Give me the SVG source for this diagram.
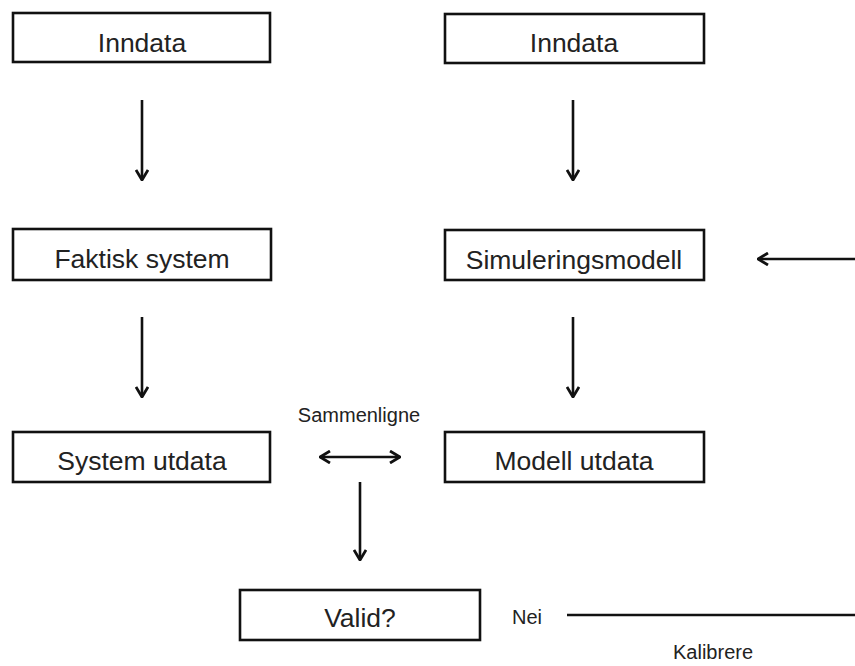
<svg xmlns="http://www.w3.org/2000/svg" width="855" height="666" viewBox="0 0 855 666">
<defs>
<style>
.box{fill:#fff;stroke:#111;stroke-width:2.6}
.lbl{font-family:"Liberation Sans",Arial,sans-serif;font-size:26.5px;fill:#222;text-anchor:middle}
.small{font-family:"Liberation Sans",Arial,sans-serif;font-size:20px;fill:#222}
.conn{stroke:#111;stroke-width:2.6;fill:none}
</style>
<marker id="ah" viewBox="0 0 12 14" refX="11" refY="7" markerWidth="12" markerHeight="14" markerUnits="userSpaceOnUse" orient="auto-start-reverse">
<path d="M1,1 L11,7 L1,13" fill="none" stroke="#111" stroke-width="2.8"/>
</marker>
</defs>
<rect width="855" height="666" fill="#fff"/>
<g id="inndata1"><rect class="box" x="13" y="13" width="257" height="49"/><text class="lbl" x="142" y="51.5">Inndata</text></g>
<g id="inndata2"><rect class="box" x="445" y="14" width="259" height="49"/><text class="lbl" x="574" y="52">Inndata</text></g>
<g id="faktisk"><rect class="box" x="13" y="229" width="258" height="51"/><text class="lbl" x="142" y="268">Faktisk system</text></g>
<g id="simulering"><rect class="box" x="445" y="230" width="259" height="50"/><text class="lbl" x="574" y="269">Simuleringsmodell</text></g>
<g id="systemutdata"><rect class="box" x="13" y="432" width="257" height="50"/><text class="lbl" x="142" y="470">System utdata</text></g>
<g id="modellutdata"><rect class="box" x="445" y="432" width="259" height="50"/><text class="lbl" x="574" y="470">Modell utdata</text></g>
<g id="valid"><rect class="box" x="240" y="590" width="240" height="50"/><text class="lbl" x="360" y="627">Valid?</text></g>
<g id="connectors">
<line class="conn" x1="142" y1="100" x2="142" y2="180" marker-end="url(#ah)"/>
<line class="conn" x1="573" y1="100" x2="573" y2="180" marker-end="url(#ah)"/>
<line class="conn" x1="142" y1="317" x2="142" y2="397" marker-end="url(#ah)"/>
<line class="conn" x1="573" y1="317" x2="573" y2="397" marker-end="url(#ah)"/>
<line class="conn" x1="360" y1="482" x2="360" y2="560" marker-end="url(#ah)"/>
<line class="conn" x1="320" y1="457" x2="400" y2="457" marker-start="url(#ah)" marker-end="url(#ah)"/>
<line class="conn" x1="855" y1="259" x2="758" y2="259" marker-end="url(#ah)"/>
<line class="conn" x1="567" y1="615" x2="855" y2="615"/>
<text class="small" x="359" y="422" text-anchor="middle">Sammenligne</text>
<text class="small" x="512" y="624">Nei</text>
<text class="small" x="673" y="659">Kalibrere</text>
</g>
</svg>
